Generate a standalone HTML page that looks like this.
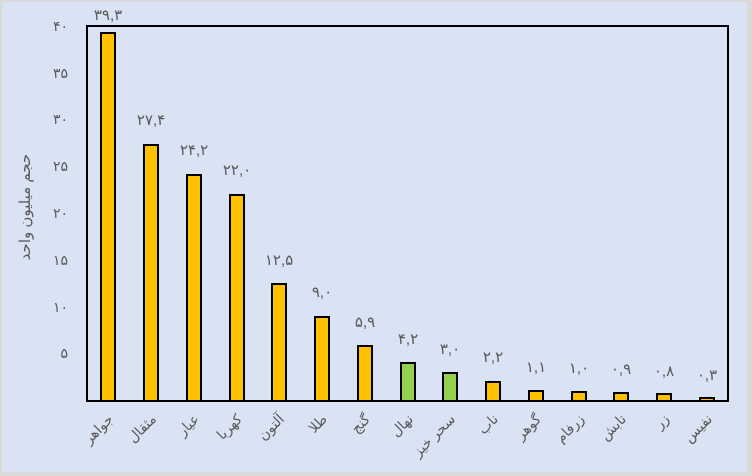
<!DOCTYPE html>
<html><head><meta charset="utf-8"><style>
html,body{margin:0;padding:0;width:752px;height:476px;overflow:hidden;background:#d9d9d9}
svg{display:block}
text{font-family:"Liberation Sans","DejaVu Sans",sans-serif;fill:#595959}
</style></head><body>
<svg width="752" height="476" viewBox="0 0 752 476" xmlns="http://www.w3.org/2000/svg">
<rect x="2" y="2" width="745" height="470" fill="#dae3f3"/>
<g font-size="14" text-anchor="end">
<text x="68" y="31">۴۰</text>
<text x="68" y="78">۳۵</text>
<text x="68" y="124">۳۰</text>
<text x="68" y="171">۲۵</text>
<text x="68" y="218">۲۰</text>
<text x="68" y="265">۱۵</text>
<text x="68" y="312">۱۰</text>
<text x="68" y="358">۵</text>
</g>
<text transform="translate(30,207) rotate(-90)" font-size="15" text-anchor="middle">حجم میلیون واحد</text>
<g stroke="#000" stroke-width="2">
<rect x="101" y="33" width="14" height="368" fill="#ffc000"/>
<rect x="144" y="145" width="14" height="256" fill="#ffc000"/>
<rect x="187" y="175" width="14" height="226" fill="#ffc000"/>
<rect x="230" y="195" width="14" height="206" fill="#ffc000"/>
<rect x="272" y="284" width="14" height="117" fill="#ffc000"/>
<rect x="315" y="317" width="14" height="84" fill="#ffc000"/>
<rect x="358" y="346" width="14" height="55" fill="#ffc000"/>
<rect x="401" y="363" width="14" height="38" fill="#92d050"/>
<rect x="443" y="373" width="14" height="28" fill="#92d050"/>
<rect x="486" y="382" width="14" height="19" fill="#ffc000"/>
<rect x="529" y="391" width="14" height="10" fill="#ffc000"/>
<rect x="572" y="392" width="14" height="9" fill="#ffc000"/>
<rect x="614" y="393" width="14" height="8" fill="#ffc000"/>
<rect x="657" y="394" width="14" height="7" fill="#ffc000"/>
<rect x="700" y="398" width="14" height="3" fill="#ffc000"/>
</g>
<rect x="87" y="26" width="641" height="375" fill="none" stroke="#000" stroke-width="2"/>
<g font-size="15" text-anchor="middle">
<text x="108" y="20">۳۹,۳</text>
<text x="151" y="125">۲۷,۴</text>
<text x="194" y="155">۲۴,۲</text>
<text x="237" y="175">۲۲,۰</text>
<text x="279" y="265">۱۲,۵</text>
<text x="322" y="297">۹,۰</text>
<text x="365" y="327">۵,۹</text>
<text x="408" y="344">۴,۲</text>
<text x="450" y="354">۳,۰</text>
<text x="493" y="362">۲,۲</text>
<text x="536" y="372">۱,۱</text>
<text x="579" y="373">۱,۰</text>
<text x="621" y="374">۰,۹</text>
<text x="664" y="376">۰,۸</text>
<text x="707" y="380">۰,۳</text>
</g>
<g font-size="14" text-anchor="end">
<text transform="translate(114,420) rotate(-45)">جواهر</text>
<text transform="translate(157,420) rotate(-45)">مثقال</text>
<text transform="translate(200,420) rotate(-45)">عیار</text>
<text transform="translate(243,420) rotate(-45)">کهربا</text>
<text transform="translate(285,420) rotate(-45)">آلتون</text>
<text transform="translate(328,420) rotate(-45)">طلا</text>
<text transform="translate(371,420) rotate(-45)">گنج</text>
<text transform="translate(414,420) rotate(-45)">نهال</text>
<text transform="translate(456,420) rotate(-45)">سحر خیز</text>
<text transform="translate(499,420) rotate(-45)">ناب</text>
<text transform="translate(542,420) rotate(-45)">گوهر</text>
<text transform="translate(585,420) rotate(-45)">زرفام</text>
<text transform="translate(627,420) rotate(-45)">تابش</text>
<text transform="translate(670,420) rotate(-45)">زر</text>
<text transform="translate(713,420) rotate(-45)">نفیس</text>
</g>
</svg>
</body></html>
